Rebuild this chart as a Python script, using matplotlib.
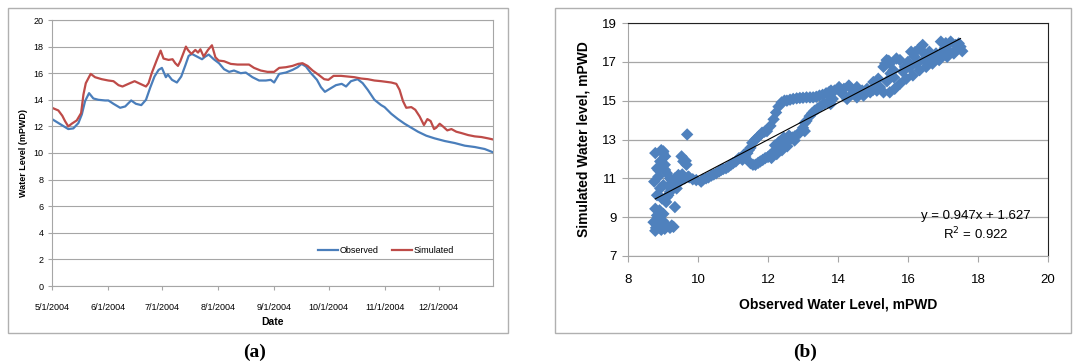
import numpy as np
import pandas as pd
import matplotlib
matplotlib.use("Agg")
import matplotlib.pyplot as plt
from matplotlib.patches import Rectangle

plt.rcParams['font.family'] = ['Liberation Sans Narrow', 'Liberation Sans', 'DejaVu Sans']

# ---------------------------------------------------------------------------
# Panel (a): water level time series (days counted from 5/1/2004)
# ---------------------------------------------------------------------------
START = pd.Timestamp("2004-05-01")

obs_days = [0, 3, 5.4, 9, 11.8, 14.6, 16.5, 18.3, 20.5, 22.9, 25.7, 29.4, 31.2, 34, 37.7,
            40.5, 43.8, 46.4, 49.4, 52, 54.3, 56.7, 59, 60.8, 63, 64.1, 66.4, 69.1, 71.5,
            73.8, 75.6, 77.4, 80.2, 83, 84.8, 86.7, 89.5, 92.4, 95.2, 98, 100.7, 104.4,
            107.2, 110.9, 114.6, 118.3, 121, 122.9, 125.7, 129.4, 133.1, 135.9, 138.1,
            140.5, 143.3, 146.6, 148.8, 151, 154, 157.1, 160.3, 162.7, 165.4, 169.1,
            171.9, 174.7, 178.4, 182.1, 184, 187.7, 191.4, 195.1, 198.8, 202.5, 207.1,
            211.7, 217.3, 222.8, 228.4, 233.9, 239.4, 244.6]
obs_vals = [12.55, 12.3, 12.1, 11.8, 11.85, 12.25, 12.9, 13.9, 14.5, 14.1, 14.0, 13.95,
            13.95, 13.7, 13.4, 13.5, 13.95, 13.7, 13.6, 14.0, 14.9, 15.75, 16.25, 16.4,
            15.7, 15.9, 15.5, 15.3, 15.75, 16.6, 17.3, 17.45, 17.25, 17.05, 17.25, 17.4,
            17.05, 16.75, 16.3, 16.1, 16.2, 16.0, 16.05, 15.7, 15.45, 15.45, 15.5, 15.3,
            15.95, 16.05, 16.25, 16.45, 16.7, 16.5, 16.0, 15.5, 14.95, 14.6, 14.85, 15.1,
            15.2, 15.0, 15.4, 15.55, 15.25, 14.75, 14.0, 13.6, 13.45, 12.95, 12.55, 12.2,
            11.9, 11.6, 11.3, 11.1, 10.9, 10.75, 10.55, 10.45, 10.3, 10.02]

sim_days = [0, 3.5, 5.7, 7.2, 9, 10.9, 13.7, 16.1, 17.4, 18.7, 21.4, 23.8, 27.5, 31.2,
            34, 36.8, 39, 42.3, 45.7, 48.8, 52, 53.4, 55.3, 58, 60.1, 61.7, 64.5, 66.7,
            68.2, 69.7, 71, 74.1, 75.2, 77.1, 79.3, 80.8, 82.1, 83.9, 86.3, 88.5, 90.4,
            92.2, 95.2, 98.9, 102.6, 106.3, 109, 111.8, 115.5, 119.2, 122.9, 125.7,
            129.4, 133.1, 136.2, 138.6, 141.4, 144.2, 147.3, 150.6, 152.9, 155.8, 159.9,
            163.6, 167.3, 171, 174.7, 178.4, 182.1, 187.7, 190.5, 192.3, 194.2, 196,
            198.8, 201, 203.4, 205.8, 207.7, 209.5, 211.4, 212.6, 214.5, 216.3, 218.7,
            221, 223.7, 226.5, 230.2, 233.9, 237.6, 241.3, 244.6]
sim_vals = [13.4, 13.2, 12.8, 12.4, 12.0, 12.2, 12.45, 13.0, 14.4, 15.25, 15.95, 15.7,
            15.55, 15.45, 15.4, 15.1, 15.0, 15.2, 15.4, 15.2, 15.0, 15.25, 16.05, 17.0,
            17.7, 17.1, 17.0, 17.05, 16.75, 16.55, 16.9, 18.0, 17.75, 17.45, 17.75, 17.55,
            17.8, 17.25, 17.75, 18.1, 17.2, 16.95, 16.9, 16.7, 16.65, 16.65, 16.65, 16.4,
            16.2, 16.1, 16.1, 16.4, 16.45, 16.55, 16.7, 16.75, 16.55, 16.2, 15.9, 15.55,
            15.5, 15.8, 15.8, 15.75, 15.7, 15.6, 15.55, 15.45, 15.4, 15.3, 15.2, 14.75,
            13.9, 13.4, 13.45, 13.25, 12.75, 12.1, 12.55, 12.4, 11.8, 11.9, 12.2, 12.0,
            11.7, 11.8, 11.6, 11.5, 11.35, 11.25, 11.2, 11.1, 11.0]

month_ticks = ["2004-05-01", "2004-06-01", "2004-07-01", "2004-08-01",
               "2004-09-01", "2004-10-01", "2004-11-01", "2004-12-01"]
month_labels = ["5/1/2004", "6/1/2004", "7/1/2004", "8/1/2004",
                "9/1/2004", "10/1/2004", "11/1/2004", "12/1/2004"]

# ---------------------------------------------------------------------------
# Panel (b): observed vs simulated scatter
# ---------------------------------------------------------------------------
obs_pts = [8.78, 8.87, 8.73, 8.83, 8.97, 9.11, 9.25, 8.90, 9.01, 8.78, 9.09, 9.15, 9.34,
           8.92, 8.75, 8.87, 8.83, 8.78, 9.01, 9.06, 8.92, 9.11, 9.20, 9.34, 9.44, 9.53,
           9.58, 9.67, 9.62, 9.72, 9.69, 9.30, 9.01, 9.20, 9.11, 8.97, 8.83, 9.06, 8.87,
           9.39, 9.48, 8.80, 8.95, 9.05, 9.00, 8.85, 9.20, 9.30, 9.25, 9.35, 9.40, 9.15,
           9.05, 9.00, 8.95, 9.65, 9.55, 9.75, 9.85,
           9.95, 10.09, 10.15, 10.23, 10.30, 10.38, 10.45, 10.52, 10.60, 10.66, 10.72,
           10.80, 10.87, 10.94, 11.00, 11.08, 11.17, 11.27, 11.31, 11.41, 11.35, 11.45,
           11.50, 11.55, 11.64, 11.70, 11.74, 11.83, 11.90, 11.97, 12.07, 12.16, 12.23,
           12.30, 12.39, 12.47, 12.54, 12.63, 12.72, 12.82, 12.91, 13.00, 13.10, 13.20,
           13.29, 13.38, 13.47, 13.56, 13.66, 13.75, 13.80,
           11.50, 11.57, 11.64, 11.72, 11.78, 11.85, 11.92, 12.00, 12.07, 12.13, 12.20,
           12.27, 12.35, 12.42, 12.49, 12.56, 12.63, 12.70, 12.77, 12.76, 12.84, 12.91,
           13.05, 13.00, 13.05, 13.10, 13.19, 13.26, 13.33, 13.42, 13.52, 13.61, 13.71,
           13.79, 13.85, 12.10, 12.25, 12.40, 12.55, 12.30, 12.45, 12.20, 12.60,
           13.90, 14.03, 14.17, 14.31, 14.45, 14.54, 14.69, 14.83, 15.01, 15.15, 15.30,
           15.39, 15.48, 15.58, 15.67, 15.77, 15.91, 16.00, 16.09, 16.19, 16.33, 16.42,
           16.52, 16.61, 16.80, 16.94, 17.08, 17.22, 17.36, 17.50, 17.55, 17.31, 17.12,
           16.89, 16.70, 16.52, 16.33, 16.14, 15.95, 15.77, 15.62, 15.48, 15.30, 15.11,
           14.92, 14.73, 14.54, 14.26, 13.79, 14.10, 14.40, 14.60, 14.80, 15.00, 15.20,
           15.40, 15.50, 15.35, 15.45, 15.60, 15.85, 16.05, 16.25, 16.45, 16.60, 16.75,
           16.95, 17.15, 17.40, 17.45, 17.05, 16.20, 16.40]
sim_pts = [8.30, 8.48, 8.74, 9.09, 8.65, 8.57, 8.57, 9.35, 9.17, 9.43, 9.78, 10.13, 9.52,
           10.48, 10.83, 11.09, 11.52, 12.30, 12.39, 12.13, 11.87, 11.26, 11.00, 11.00,
           11.17, 12.13, 11.87, 11.70, 11.00, 11.09, 13.26, 10.65, 10.65, 10.30, 10.04,
           9.96, 10.13, 11.43, 11.43, 10.48, 10.83, 8.45, 8.35, 8.40, 8.80, 8.95, 8.45,
           8.50, 10.90, 10.70, 11.05, 10.60, 11.70, 12.30, 12.45, 11.90, 11.20, 11.05,
           10.95,
           10.91, 10.83, 10.95, 11.00, 11.05, 11.14, 11.20, 11.26, 11.35, 11.43, 11.48,
           11.52, 11.60, 11.70, 11.78, 11.87, 12.04, 11.96, 12.22, 12.30, 12.10, 12.45,
           12.57, 12.83, 13.00, 13.10, 13.17, 13.35, 13.40, 13.43, 13.70, 14.04, 14.39,
           14.69, 14.91, 15.00, 15.00, 15.05, 15.09, 15.12, 15.14, 15.15, 15.17, 15.17,
           15.17, 15.20, 15.26, 15.30, 15.38, 15.45, 15.52,
           11.78, 11.70, 11.70, 11.80, 11.87, 11.95, 12.04, 12.10, 12.22, 12.30, 12.39,
           12.50, 12.60, 12.70, 12.83, 12.90, 13.00, 13.10, 13.17, 12.95, 13.25, 13.35,
           13.43, 13.60, 13.85, 13.96, 14.20, 14.35, 14.48, 14.60, 14.74, 14.83, 14.91,
           14.98, 15.09, 12.05, 12.25, 12.45, 12.65, 12.85, 13.10, 12.70, 13.20,
           15.52, 15.70, 15.61, 15.78, 15.43, 15.70, 15.52, 15.61, 15.96, 16.13, 16.74,
           17.09, 16.91, 16.57, 17.17, 17.09, 16.74, 17.00, 17.52, 17.26, 17.70, 17.87,
           17.35, 17.52, 17.43, 18.04, 17.96, 18.04, 17.87, 17.78, 17.55, 17.43, 17.26,
           17.09, 16.91, 16.74, 16.57, 16.30, 16.13, 15.87, 15.61, 15.43, 15.43, 15.52,
           15.43, 15.26, 15.17, 15.09, 14.83, 15.40, 15.35, 15.40, 15.50, 15.55, 15.70,
           16.00, 16.40, 16.90, 17.05, 16.20, 16.50, 16.70, 16.90, 17.10, 17.00, 17.20,
           17.45, 17.60, 17.65, 17.95, 17.70, 17.50, 17.55]

trend_slope = 0.947
trend_intercept = 1.627
trend_range = [8.78, 17.5]

BLUE = '#4a7ebb'
RED = '#be4b48'
MARKER = '#4f81bd'
GRID = '#a6a6a6'

fig = plt.figure(figsize=(10.73, 3.64), dpi=100)

# panel frames
for x0, w in [(8, 500), (555, 516)]:
    fig.patches.append(Rectangle((x0 / 1073, 1 - 333 / 364), w / 1073, 325 / 364,
                                 transform=fig.transFigure, fill=False,
                                 edgecolor='#b0b0b0', linewidth=1.0))

# ----- (a) -----
ax1 = fig.add_axes([52 / 1073, 1 - 286 / 364, 441 / 1073, 266 / 364])
obs_dates = START + pd.to_timedelta(obs_days, unit='D')
sim_dates = START + pd.to_timedelta(sim_days, unit='D')
ax1.plot(obs_dates, obs_vals, color=BLUE, linewidth=1.6, label='Observed')
ax1.plot(sim_dates, sim_vals, color=RED, linewidth=1.6, label='Simulated')
ax1.set_xlim(START, pd.Timestamp("2004-12-31"))
ax1.set_ylim(0, 20)
ax1.set_yticks(np.arange(0, 21, 2))
ax1.set_xticks(pd.to_datetime(month_ticks))
ax1.set_xticklabels(month_labels)
ax1.tick_params(labelsize=6.5, length=3, color=GRID, pad=9)
ax1.tick_params(axis='y', pad=3)
ax1.grid(axis='y', color=GRID, linewidth=0.8)
ax1.set_axisbelow(True)
for s in ax1.spines.values():
    s.set_color(GRID)
ax1.set_ylabel('Water Level (mPWD)', fontsize=6.5, fontweight='bold', labelpad=4)
ax1.set_xlabel('Date', fontsize=7.5, fontweight='bold', labelpad=4)
ax1.legend(loc='lower right', bbox_to_anchor=(0.93, 0.085), ncol=2, frameon=False,
           fontsize=6.5, handlelength=2.2, columnspacing=1.5, handletextpad=0.2)

# ----- (b) -----
ax2 = fig.add_axes([628 / 1073, 1 - 256 / 364, 420 / 1073, 233 / 364])
ax2.scatter(obs_pts, sim_pts, marker='D', s=40, color=MARKER, edgecolors='none', zorder=3)
tx = np.array(trend_range)
ax2.plot(tx, trend_slope * tx + trend_intercept, color='black', linewidth=0.8, zorder=4)
ax2.set_xlim(8, 20)
ax2.set_ylim(7, 19)
ax2.set_xticks(np.arange(8, 21, 2))
ax2.set_yticks(np.arange(7, 20, 2))
ax2.tick_params(labelsize=9.5, length=4, color=GRID, pad=9)
ax2.tick_params(axis='y', pad=4)
ax2.grid(axis='y', color=GRID, linewidth=0.9)
ax2.set_axisbelow(True)
ax2.spines['left'].set_color(GRID)
ax2.spines['bottom'].set_color(GRID)
ax2.spines['top'].set_color('#222222')
ax2.spines['right'].set_color('#222222')
ax2.set_xlabel('Observed Water Level, mPWD', fontsize=10, fontweight='bold', labelpad=8)
ax2.set_ylabel('Simulated Water level, mPWD', fontsize=10, fontweight='bold', labelpad=8)
ax2.text(17.95, 9.05, 'y = 0.947x + 1.627', ha='center', va='center', fontsize=9.5)
ax2.text(17.95, 8.15, 'R$^2$ = 0.922', ha='center', va='center', fontsize=9.5)

# panel letters
fig.text(255 / 1073, 1 - 352 / 364, '(a)', ha='center', va='center', fontsize=14,
         fontweight='bold', family='Liberation Serif')
fig.text(805 / 1073, 1 - 352 / 364, '(b)', ha='center', va='center', fontsize=14,
         fontweight='bold', family='Liberation Serif')

fig.savefig('out.png', dpi=100)
